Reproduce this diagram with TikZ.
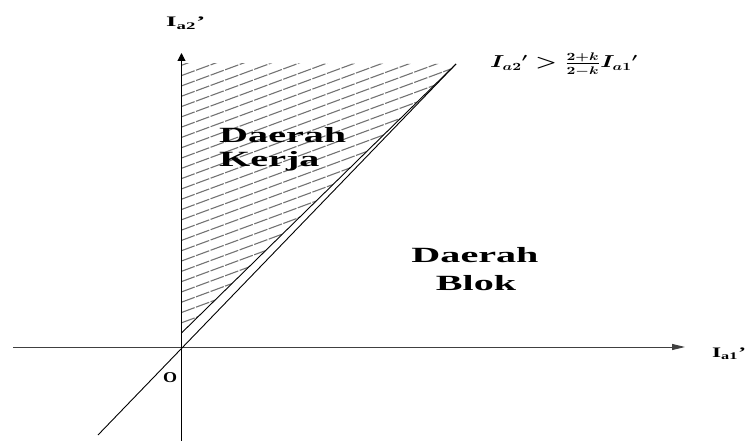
\documentclass[tikz,border=0pt]{standalone}
\usepackage{fontspec}
\setmainfont{Liberation Serif}
\usetikzlibrary{arrows.meta}
\newcommand{\wide}[2][1.85]{\scalebox{#1}[1]{#2}}
\tikzset{
  axis/.style={line width=1pt},
  hatchline/.style={black!55, line width=1.1pt, dash pattern=on 14pt off 1.5pt},
  bigtext/.style={inner sep=0pt, font=\bfseries\fontsize{21.7}{24}\selectfont},
  axlabel/.style={inner sep=0pt, font=\bfseries\fontsize{14.5}{16}\selectfont},
}
\begin{document}
\begin{tikzpicture}[x=1pt, y=-1pt]
\useasboundingbox (0,0) rectangle (750,441);
% coordinates
\coordinate (O) at (181.5,347);
\coordinate (xL) at (13,347);
\coordinate (xR) at (685,347);
\coordinate (yB) at (181.5,441);
\coordinate (yT) at (181.5,53);
\coordinate (lB) at (98,435);
\coordinate (lT) at (456,64);
\coordinate (hB) at (181.5,333);
\coordinate (hTL) at (181.5,63);
% hatching
\begin{scope}
  \clip (hTL) -- (lT) -- (hB) -- cycle;
  \foreach \i in {0,...,30} {
    \draw[hatchline] (181.5,{55+\i*10.3}) -- ++(320,-118);
  }
\end{scope}
\draw[line width=0.9pt] (hB) -- (lT);
% axes
\draw[axis, black!75, -{Triangle[length=13pt,width=6pt]}] (xL) -- (xR);
\draw[axis, -{Triangle[length=8pt,width=8pt]}] (yB) -- (yT);
% boundary line
\draw[line width=0.9pt] (lB) -- (lT);
% labels
\node[axlabel, anchor=base west] (ya) at (166,27) {\wide{I\textsubscript{a2}’}};
\node[axlabel, anchor=base west] (xa) at (712,357) {\wide[1.6]{I\textsubscript{a1}’}};
\node[axlabel, anchor=base west, font=\bfseries\fontsize{15}{17}\selectfont] (o) at (163,382) {\wide[1.2]{O}};
\node[bigtext, anchor=base west] (dk1) at (219,143) {\wide{Daerah}};
\node[bigtext, anchor=base west] (dk2) at (219,167) {\wide{Kerja}};
\node[bigtext, anchor=base] (db1) at (475,262) {\wide{Daerah}};
\node[bigtext, anchor=base] (db2) at (476,290) {\wide{Blok}};
\node[inner sep=0pt, anchor=base west, font=\fontsize{16}{18}\selectfont] (eq) at (490,68)
  {\wide[1.4]{\boldmath$I_{a2}{}' > \frac{2+k}{2-k} I_{a1}{}'$}};
\end{tikzpicture}
\end{document}
